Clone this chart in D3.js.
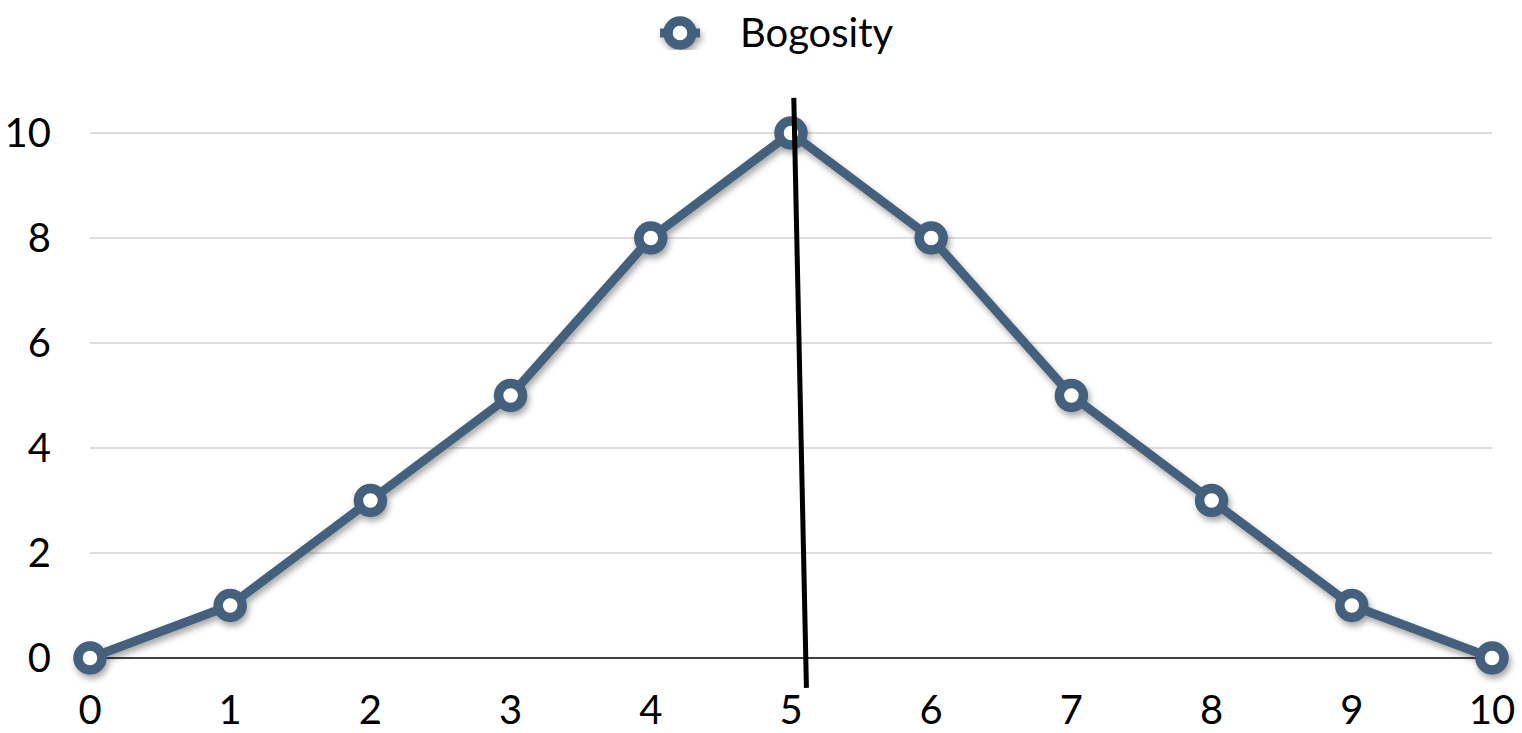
<!DOCTYPE html>
<html><head><meta charset="utf-8">
<script src="https://cdn.jsdelivr.net/npm/d3@7"></script>
<style>
html,body{margin:0;padding:0;background:#fff;}
text{font-family:"Lato","Open Sans",sans-serif;fill:#000;}
</style></head>
<body><svg id="c" width="1522" height="733"></svg>
<script>
const xValues = [0,1,2,3,4,5,6,7,8,9,10];
const bogosity = [0,1,3,5,8,10,8,5,3,1,0];
const yTicks = [0,2,4,6,8,10];
const xTicks = [0,1,2,3,4,5,6,7,8,9,10];
const seriesName = "Bogosity";
const markerLine = [{x:5.02,y:10.67},{x:5.11,y:-0.57}];

const svg = d3.select("#c");
const x = d3.scaleLinear().domain([0,10]).range([90,1492]);
const y = d3.scaleLinear().domain([0,10]).range([658,133]);
const color = "#44617c";

const defs = svg.append("defs");
const f = defs.append("filter").attr("id","sh").attr("x","-20%").attr("y","-20%").attr("width","140%").attr("height","140%");
f.append("feDropShadow").attr("dx",2).attr("dy",4).attr("stdDeviation",3).attr("flood-color","#000").attr("flood-opacity",0.35);

// gridlines
svg.append("g").selectAll("line").data(yTicks.filter(d=>d!==0)).join("line")
  .attr("x1",x(0)).attr("x2",x(10)).attr("y1",d=>y(d)).attr("y2",d=>y(d))
  .attr("stroke","#bdbdbd").attr("stroke-width",1.2);
// baseline
svg.append("line").attr("x1",x(0)).attr("x2",x(10)).attr("y1",y(0)).attr("y2",y(0))
  .attr("stroke","#000").attr("stroke-width",1.6);

// y labels
svg.append("g").selectAll("text").data(yTicks).join("text")
  .attr("x",51).attr("y",d=>y(d)).attr("dy","0.36em").attr("text-anchor","end")
  .attr("font-size",40).text(d=>d);
// x labels
svg.append("g").selectAll("text").data(xTicks).join("text")
  .attr("x",d=>x(d)).attr("y",724).attr("text-anchor","middle")
  .attr("font-size",40).text(d=>d);

const pts = xValues.map((v,i)=>({x:v,y:bogosity[i]}));
const g = svg.append("g").attr("filter","url(#sh)");
g.append("path").datum(pts)
  .attr("d",d3.line().x(d=>x(d.x)).y(d=>y(d.y)))
  .attr("fill","none").attr("stroke",color).attr("stroke-width",9).attr("stroke-linejoin","round");
g.selectAll("circle").data(pts).join("circle")
  .attr("cx",d=>x(d.x)).attr("cy",d=>y(d.y)).attr("r",12)
  .attr("fill","#fff").attr("stroke",color).attr("stroke-width",9.5);

// annotation line
svg.append("line")
  .attr("x1",x(markerLine[0].x)).attr("y1",y(markerLine[0].y))
  .attr("x2",x(markerLine[1].x)).attr("y2",y(markerLine[1].y))
  .attr("stroke","#000").attr("stroke-width",5);

// legend
const lg = svg.append("g").attr("filter","url(#sh)");
lg.append("line").attr("x1",660).attr("x2",700).attr("y1",33).attr("y2",33)
  .attr("stroke",color).attr("stroke-width",9);
lg.append("circle").attr("cx",680).attr("cy",33).attr("r",12)
  .attr("fill","#fff").attr("stroke",color).attr("stroke-width",9.5);
svg.append("text").attr("x",740).attr("y",33).attr("dy","0.36em")
  .attr("font-size",40).text(seriesName);
</script></body></html>
